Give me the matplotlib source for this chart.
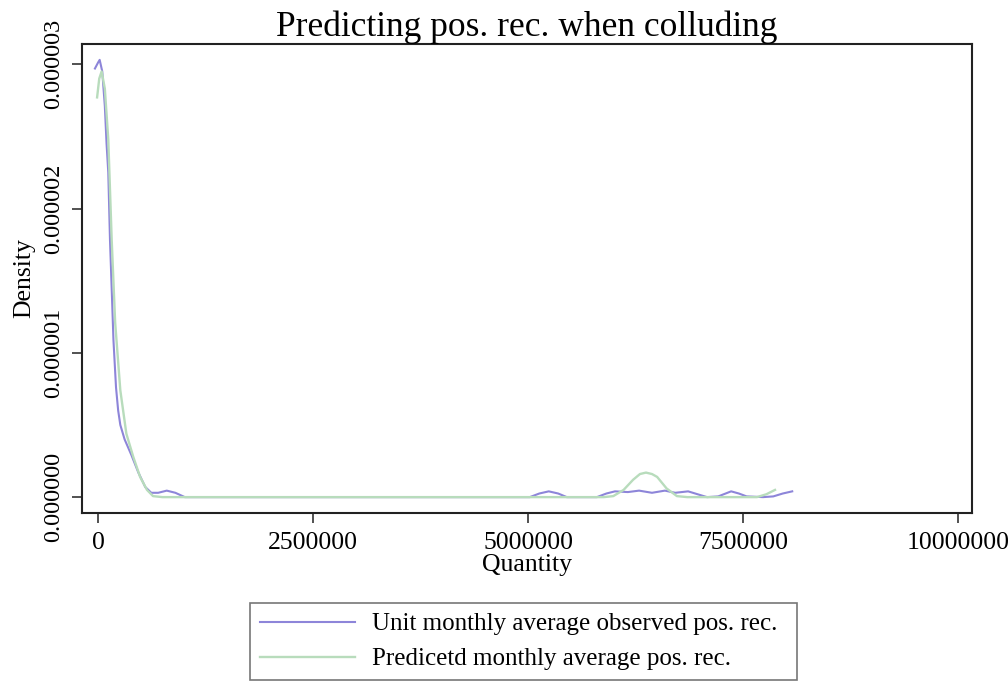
import matplotlib
matplotlib.use("Agg")
import matplotlib.pyplot as plt
import numpy as np

# kernel density traces, quantity in millions, density in 1e-6
obs_q = [-0.035, 0.0, 0.02, 0.05, 0.08, 0.10, 0.12, 0.14, 0.16, 0.18, 0.21, 0.235, 0.26,
         0.31, 0.39, 0.47, 0.55, 0.62, 0.70, 0.80, 0.90, 1.01, 5.02, 5.13, 5.24, 5.35,
         5.45, 5.80, 5.91, 6.01, 6.16, 6.29, 6.44, 6.59, 6.71, 6.86, 6.97, 7.08, 7.21,
         7.36, 7.45, 7.54, 7.73, 7.85, 7.96, 8.07]
obs_d = [2.97, 3.01, 3.03, 2.95, 2.71, 2.45, 2.25, 1.78, 1.44, 1.09, 0.76, 0.60, 0.50,
         0.40, 0.29, 0.17, 0.07, 0.03, 0.03, 0.045, 0.03, 0.0, 0.0, 0.025, 0.04, 0.025,
         0.0, 0.0, 0.025, 0.04, 0.035, 0.045, 0.03, 0.045, 0.03, 0.04, 0.02, 0.0, 0.005,
         0.04, 0.025, 0.005, 0.0, 0.005, 0.025, 0.04]

pred_q = [-0.01, 0.015, 0.043, 0.08, 0.12, 0.16, 0.20, 0.26, 0.33, 0.41, 0.49, 0.57,
          0.64, 0.75, 5.88, 5.99, 6.11, 6.22, 6.30, 6.37, 6.44, 6.50, 6.61, 6.73, 6.85,
          7.66, 7.77, 7.87]
pred_d = [2.77, 2.90, 2.95, 2.83, 2.48, 1.78, 1.21, 0.74, 0.44, 0.28, 0.14, 0.05,
          0.007, 0.0, 0.0, 0.007, 0.05, 0.12, 0.16, 0.17, 0.16, 0.14, 0.06, 0.007, 0.0,
          0.0, 0.02, 0.05]

x_ticks = [0, 2500000, 5000000, 7500000, 10000000]
y_ticks = [0, 1e-6, 2e-6, 3e-6]
y_tick_labels = ["0.000000", "0.000001", "0.000002", "0.000003"]

blue = "#8d85d9"
green = "#b8dcbc"

plt.rcParams["font.family"] = ["Liberation Serif", "DejaVu Serif"]

fig = plt.figure(figsize=(10.08, 6.81), dpi=100)
ax = fig.add_axes([0.0813, 0.2467, 0.883, 0.6887])

ax.plot(np.array(obs_q) * 1e6, np.array(obs_d) * 1e-6, color=blue, lw=1.5,
        label="Unit monthly average observed pos. rec.")
ax.plot(np.array(pred_q) * 1e6, np.array(pred_d) * 1e-6, color=green, lw=1.7,
        label="Predicetd monthly average pos. rec.")

ax.set_xlim(-186000, 10160000)
ax.set_ylim(-0.11e-6, 3.14e-6)
ax.set_xticks(x_ticks)
ax.set_xticklabels([str(v) for v in x_ticks], fontsize=18.5)
ax.set_yticks(y_ticks)
ax.set_yticklabels(y_tick_labels, fontsize=17.5, rotation=90, va="center")
ax.tick_params(length=7.5, width=1.2, color="#333333")
ax.tick_params(axis="x", pad=6)
ax.tick_params(axis="y", pad=5)
for s in ax.spines.values():
    s.set_linewidth(1.5)
    s.set_color("#222222")

ax.set_xlabel("Quantity", fontsize=18.5, labelpad=0)
ax.set_ylabel("Density", fontsize=18.5, labelpad=6)
ax.set_title("Predicting pos. rec. when colluding", fontsize=25.5, pad=5)

leg = fig.legend(loc="lower left", bbox_to_anchor=(0.248, 0.001, 0.543, 0.12),
                 mode="expand", fontsize=18, frameon=True, fancybox=False,
                 handlelength=3.8, handletextpad=0.7, borderaxespad=0,
                 labelspacing=0.5, borderpad=0.4)
leg.get_frame().set_edgecolor("#555555")
leg.get_frame().set_linewidth(1.2)

fig.savefig("out.png", dpi=100, facecolor="white")
